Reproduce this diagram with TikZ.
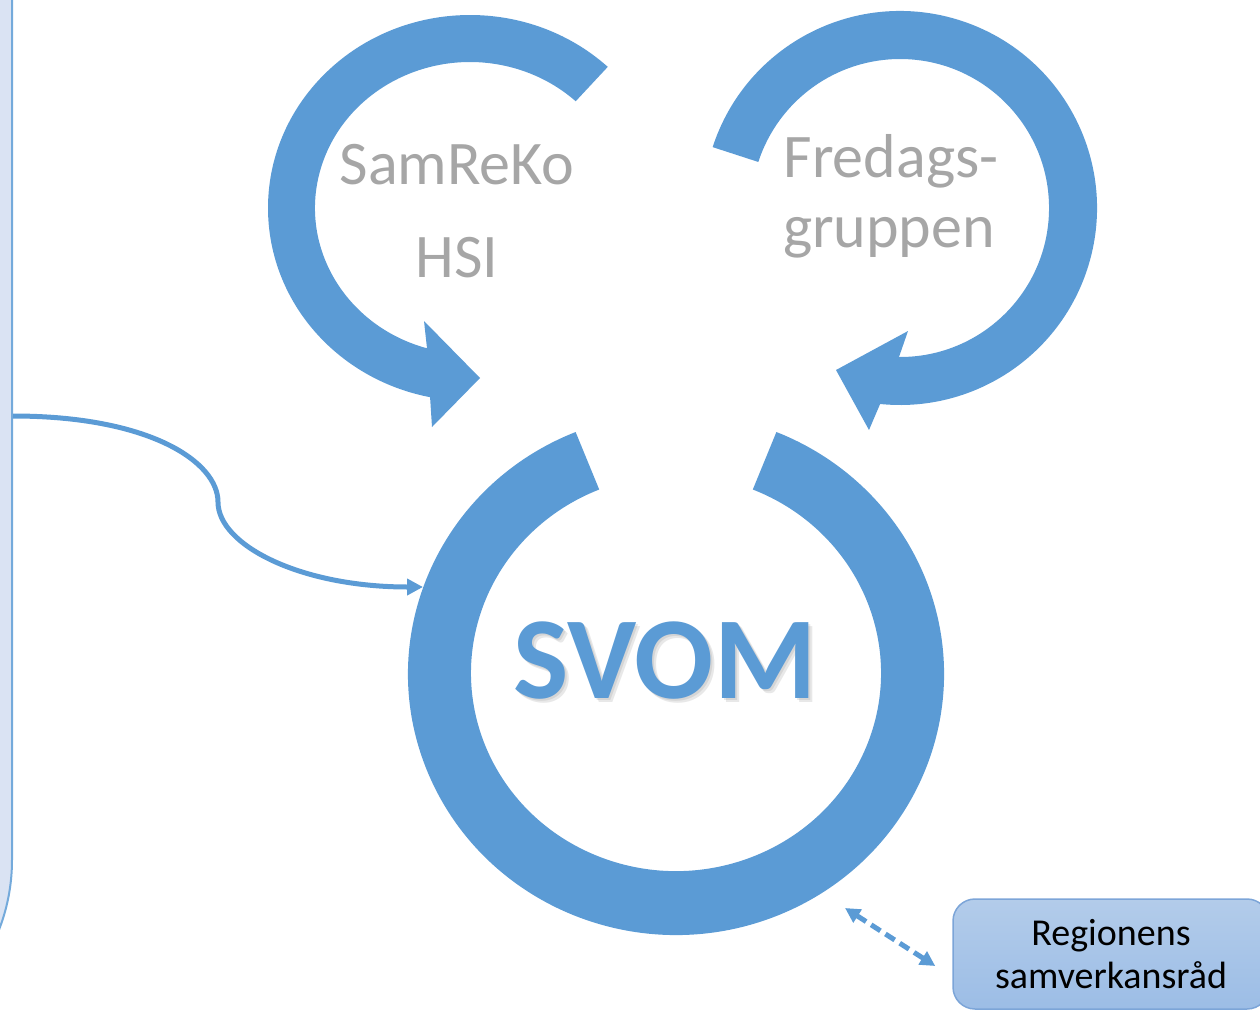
\documentclass[tikz,border=0pt]{standalone}
\usepackage{fontspec}
\setmainfont{Carlito}
\usetikzlibrary{arrows.meta}

\definecolor{svomblue}{HTML}{5B9BD5}
\definecolor{labelgray}{HTML}{A6A6A6}
\definecolor{panelfill}{HTML}{DAE3F3}
\definecolor{boxtop}{HTML}{B3CCEA}
\definecolor{boxbottom}{HTML}{9CBDE6}
\definecolor{boxline}{HTML}{7CA5D8}

\begin{document}
\begin{tikzpicture}[x=1pt,y=-1pt,
  ringfill/.style={fill=svomblue},
  grouptext/.style={text=labelgray,anchor=base,font=\fontsize{62}{74}\selectfont},
  svomtext/.style={anchor=base,font=\bfseries\fontsize{117}{130}\selectfont},
  linkline/.style={svomblue,line width=5pt}]
\path[use as bounding box,clip] (0,0) rectangle (1260,1012);

\node[draw=svomblue!85,line width=2pt,fill=panelfill,rounded corners=193pt,
  minimum width=392pt,minimum height=1453pt] (panel) at (-184,326.5) {};

% SamReKo HSI
\coordinate (samc) at (470,208);
\fill[ringfill] (samc) ++(-47:202 and 193) arc(-47:-258.6:202 and 193)
  -- (432,427) -- (480,378) -- (424,321) -- (427,348.3)
  arc(-253.9:-47:155 and 146) -- cycle;
\node[grouptext] (samreko) at (457,184) {SamReKo};
\node[grouptext] (hsi) at (457,277) {HSI};

% Fredagsgruppen
\coordinate (frec) at (900,208);
\fill[ringfill] (frec) ++(-162:197) arc(-162:95.8:197)
  -- (869,430) -- (836,370) -- (908,331) -- (899,357)
  arc(90.4:-162:149) -- cycle;
\node[grouptext] (fredags) at (891,177) {Fredags-};
\node[grouptext] (gruppen) at (889,247) {gruppen};

% SVOM
\coordinate (svomc) at (676,674);
\fill[ringfill] (svomc) ++(-112:268 and 261) arc(-112:-428:268 and 261)
  -- (752.8,489.5) arc(-428:-112:205 and 198) -- cycle;
\node[svomtext,text=black!50,opacity=.18] (svomshade) at (669,702) {SVOM};
\node[svomtext,text=black!50,opacity=.18] (svomshade2) at (667,700) {SVOM};
\node[svomtext,text=svomblue] (svom) at (665,698) {SVOM};

\coordinate (svomw) at (423,587);
\draw[linkline,-{Triangle[length=16pt,width=16pt]}] (panel.east |- 0,416)
  .. controls (150,416) and (218,462) .. (218,502)
  .. controls (218,545) and (300,587) .. (svomw);

\node[draw=boxline,line width=1.5pt,top color=boxtop,bottom color=boxbottom,
  rounded corners=22pt,minimum width=316pt,minimum height=110pt,align=center,
  font=\fontsize{38}{43}\selectfont] (regio) at (1111,954) {Regionens\\samverkansråd};

\coordinate (svomse) at (845,908);
\draw[linkline,dash pattern=on 11pt off 6pt,
  {Triangle[length=15pt,width=15pt]}-{Triangle[length=15pt,width=15pt]}]
  (svomse) -- ([xshift=-17pt,yshift=-12pt]regio.west);
\end{tikzpicture}
\end{document}
